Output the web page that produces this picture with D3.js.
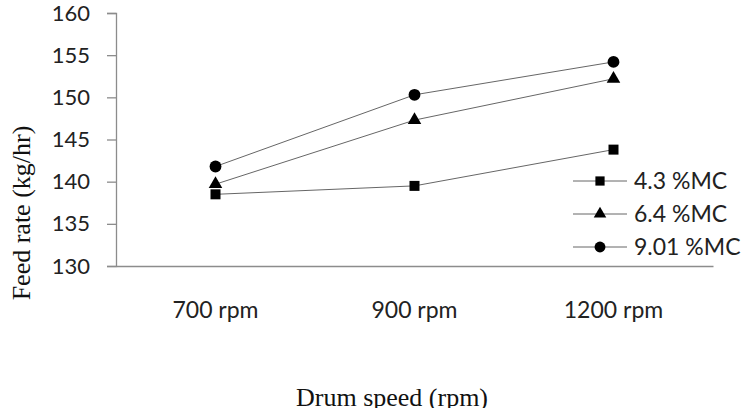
<!DOCTYPE html>
<html><head><meta charset="utf-8">
<script src="https://cdn.jsdelivr.net/npm/d3@7"></script>
<style>body{margin:0;background:#fff;}svg{display:block;}</style>
</head><body>
<svg id="c" width="756" height="408"></svg>
<script>
const categories = ["700 rpm", "900 rpm", "1200 rpm"];
const seriesNames = ["4.3 %MC", "6.4 %MC", "9.01 %MC"];
const s43 = [138.5, 139.5, 143.8];
const s64 = [139.7, 147.3, 152.2];
const s901 = [141.8, 150.3, 154.2];
const yTicks = [130, 135, 140, 145, 150, 155, 160];
const symbols = [d3.symbolSquare, d3.symbolTriangle, d3.symbolCircle];
const symSizes = [100, 80, 110];
const series = [s43, s64, s901];

const svg = d3.select("#c");
const m = {l:116, r:713, t:13, b:266};
const x = d3.scaleBand().domain(categories).range([m.l, m.r]);
const y = d3.scaleLinear().domain([130,160]).range([m.b, m.t]);
const axisColor = "#8c8c8c";
const tickFont = "Lato, 'Open Sans', sans-serif";

// y axis
const ya = svg.append("g").attr("transform", `translate(${m.l},0)`)
  .call(d3.axisLeft(y).tickValues(yTicks).tickSize(9).tickPadding(17).tickFormat(d3.format("d")));
ya.select(".domain").attr("stroke", axisColor).attr("stroke-width", 1.3);
ya.selectAll(".tick line").attr("stroke", axisColor).attr("stroke-width", 1.3);
ya.selectAll("text").attr("font-family", tickFont).attr("font-size", 22).attr("fill", "#222");

// x axis
const xa = svg.append("g").attr("transform", `translate(0,${m.b})`)
  .call(d3.axisBottom(x).tickSize(0).tickPadding(36));
xa.select(".domain").attr("stroke", axisColor).attr("stroke-width", 1.3);
xa.selectAll("text").attr("font-family", tickFont).attr("font-size", 23).attr("fill", "#222");

// lines and markers
const line = d3.line().x((d,i)=>x(categories[i]) + x.bandwidth()/2).y(d=>y(d));
series.forEach((s, k) => {
  svg.append("path").datum(s).attr("d", line).attr("fill","none").attr("stroke","#666").attr("stroke-width",1);
  svg.selectAll(null).data(s).enter().append("path")
    .attr("d", d3.symbol().type(symbols[k]).size(symSizes[k]))
    .attr("transform", (d,i)=>`translate(${x(categories[i]) + x.bandwidth()/2},${y(d)})`)
    .attr("fill", "#000");
});

// legend
const lg = svg.append("g");
seriesNames.forEach((n, k) => {
  const yy = 181 + k*33;
  lg.append("line").attr("x1", 573).attr("x2", 627).attr("y1", yy).attr("y2", yy).attr("stroke","#666").attr("stroke-width",1);
  lg.append("path").attr("d", d3.symbol().type(symbols[k]).size(symSizes[k]*0.85)).attr("transform", `translate(600,${yy})`).attr("fill","#000");
  lg.append("text").attr("x", 634).attr("y", yy).attr("dy","0.36em").attr("font-family", tickFont).attr("font-size", 23).attr("fill","#222").text(n);
});

// axis titles
svg.append("text").attr("transform", `translate(30,213) rotate(-90)`).attr("text-anchor","middle")
  .attr("font-family","'Liberation Serif', 'Times New Roman', serif").attr("font-size",26).attr("fill","#111").text("Feed rate (kg/hr)");
svg.append("text").attr("x", 392).attr("y", 406).attr("text-anchor","middle")
  .attr("font-family","'Liberation Serif', 'Times New Roman', serif").attr("font-size",26).attr("fill","#111").text("Drum speed (rpm)");
</script>
</body></html>
